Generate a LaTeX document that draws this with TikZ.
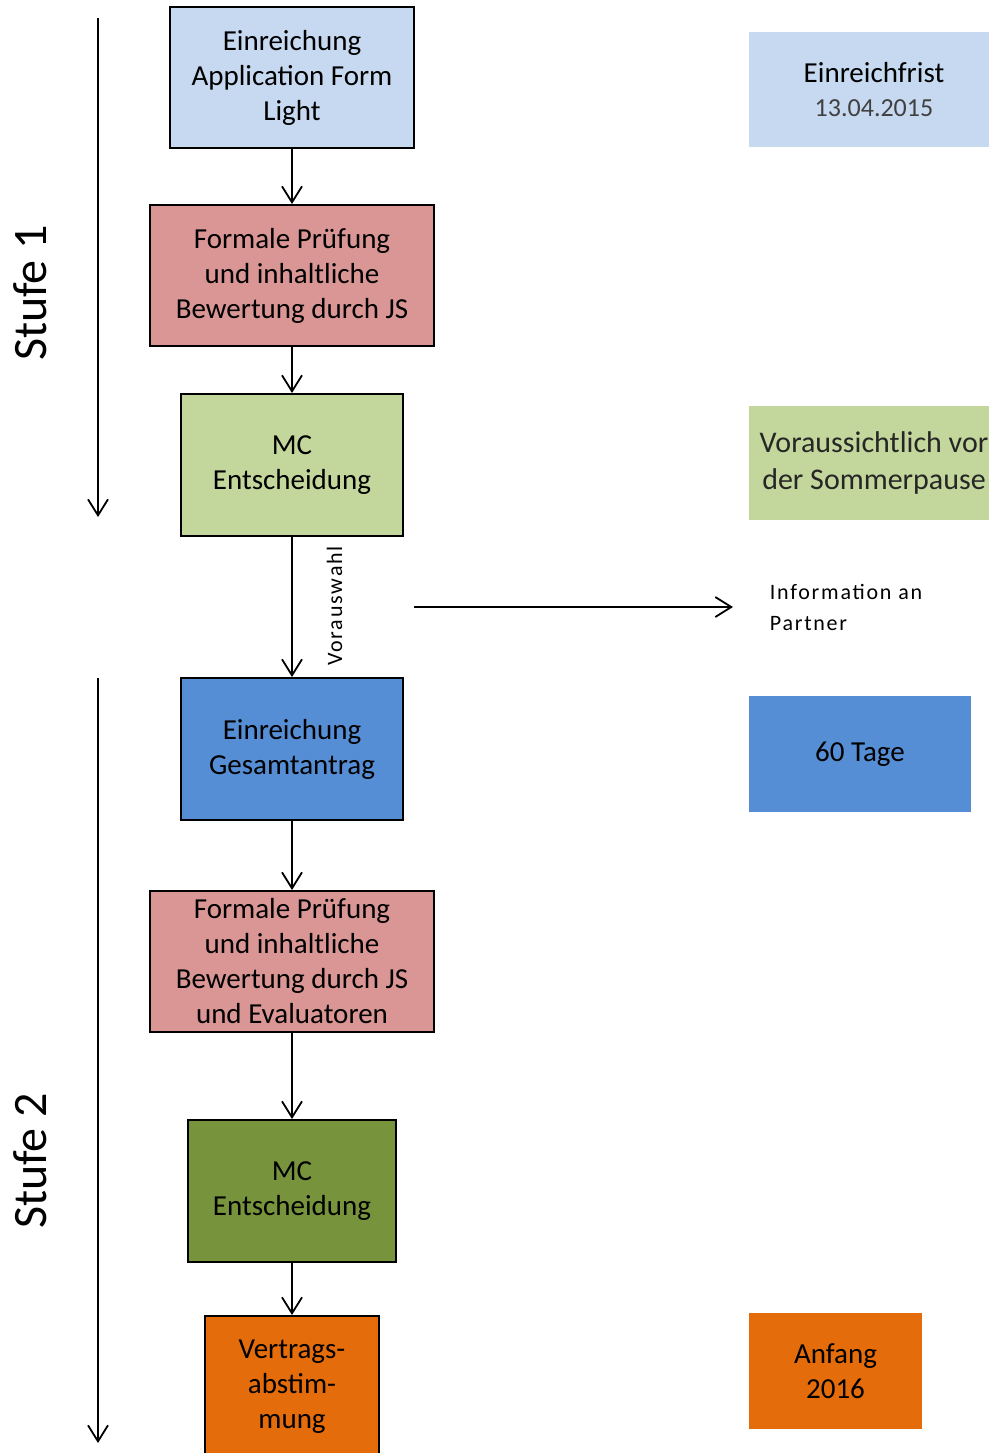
\documentclass[tikz,border=0pt]{standalone}
\usepackage{fontspec}
\setmainfont{Carlito}
\newfontfamily\spacedfont[LetterSpace=8]{Carlito}
\usepackage{tikz}
\usetikzlibrary{arrows.meta, positioning}

\definecolor{lightblue}{HTML}{C6D9F1}
\definecolor{rose}{HTML}{D99694}
\definecolor{lightgreen}{HTML}{C3D69B}
\definecolor{midblue}{HTML}{558ED5}
\definecolor{olivegreen}{HTML}{77933C}
\definecolor{boxorange}{HTML}{E46C0A}
\definecolor{darktext}{HTML}{262626}
\definecolor{greytext}{HTML}{404040}

\begin{document}
\begin{tikzpicture}[x=0.5pt, y=0.5pt, ->, >={Straight Barb[length=8pt, width=10pt]}, line width=0.9pt,
  main node/.style={rectangle, draw, line width=1pt, align=center, inner sep=0pt, font=\fontsize{14.5}{17.5}\selectfont},
  side node/.style={rectangle, align=center, inner sep=0pt, font=\fontsize{14.5}{17.5}\selectfont},
  stage label/.style={rotate=90, inner sep=0pt, font=\fontsize{24}{29}\selectfont},
  small label/.style={inner sep=0pt, font=\fontsize{11}{15.5}\spacedfont}]
    \useasboundingbox (0,0) rectangle (989,-1453);

    % left column
    \node[main node, fill=lightblue, minimum width=122pt, minimum height=70.5pt] (sub1) at (292,-77.5) {Einreichung\\Application Form\\Light};
    \node[main node, fill=rose, minimum width=142pt, minimum height=70.5pt] (check1) [below=27.5pt of sub1] {Formale Prüfung\\und inhaltliche\\Bewertung durch JS};
    \node[main node, fill=lightgreen, minimum width=111pt, minimum height=71pt] (mc1) [below=23pt of check1] {MC\\Entscheidung};
    \node[main node, fill=midblue, minimum width=111pt, minimum height=71pt] (sub2) [below=70pt of mc1] {Einreichung\\Gesamtantrag};
    \node[main node, fill=rose, minimum width=142pt, minimum height=70.5pt] (check2) [below=34.5pt of sub2] {Formale Prüfung\\und inhaltliche\\Bewertung durch JS\\und Evaluatoren};
    \node[main node, fill=olivegreen, minimum width=104pt, minimum height=71pt] (mc2) [below=43pt of check2] {MC\\Entscheidung};
    \node[main node, fill=boxorange, minimum width=87pt, minimum height=71pt] (contract) [below=26pt of mc2] {Vertrags-\\abstim-\\mung};

    % right column
    \node[side node, fill=lightblue, minimum width=125pt, minimum height=57.5pt] (deadline) at (874,-89.5) {Einreichfrist\\[-0.5pt]{\fontsize{13}{16}\selectfont\color{greytext}13.04.2015}};
    \node[side node, fill=lightgreen, text=darktext, minimum width=125pt, minimum height=57pt, font=\fontsize{15}{18.5}\selectfont] (summer) at (874,-463) {Voraussichtlich vor\\der Sommerpause};
    \node[side node, fill=midblue, minimum width=111pt, minimum height=58pt] (days) at (860,-754) {60 Tage};
    \node[side node, fill=boxorange, minimum width=86.5pt, minimum height=58pt] (start) at (835.5,-1371) {Anfang\\2016};
    \node[small label, align=left, anchor=west] (info) at (769,-607) {Information an\\Partner};
    \node[small label, rotate=90, anchor=north] (presel) at (326,-606) {Vorauswahl};

    % stages
    \node[stage label] (stage1) at (30,-293) {Stufe 1};
    \node[stage label] (stage2) at (30,-1161) {Stufe 2};
    \coordinate (s1top) at (98,-18);
    \coordinate (s1end) at (98,-517);
    \coordinate (s2top) at (98,-678);
    \coordinate (s2end) at (98,-1443);
    \coordinate (infostart) at (414,-607);

    \draw (s1top) -- (s1end);
    \draw (s2top) -- (s2end);
    \draw (infostart) -- ([xshift=-18pt]info.west);
    \path
        (sub1) edge (check1)
        (check1) edge (mc1)
        (mc1) edge (sub2)
        (sub2) edge (check2)
        (check2) edge (mc2)
        (mc2) edge (contract);
\end{tikzpicture}
\end{document}
